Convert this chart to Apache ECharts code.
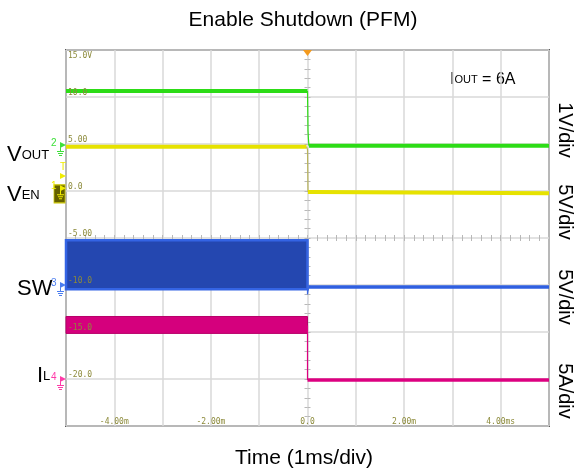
<!DOCTYPE html>
<html>
<head>
<meta charset="utf-8">
<script src="https://cdn.jsdelivr.net/npm/echarts@6/dist/echarts.min.js"></script>
<style>html,body{margin:0;padding:0;background:#fff}#main{width:578px;height:472px}</style>
</head>
<body>
<div id="main"></div>
<script>
// scope screen: x in ms, y in screen units (5 per div, as printed on the grid)
var xTicks=['','-4.00m','','-2.00m','','0.0','','2.00m','','4.00ms',''];
var yTicks=['','-20.0','-15.0','-10.0','-5.00','0.0','5.00','10.0','15.0V'];

var voutBefore=[[-5,10.65],[0,10.65]];
var voutEdge=[[0,10.65],[0.01,6.4],[0.02,5.5],[0.03,4.82]];
var voutAfter=[[0.03,4.82],[5,4.82]];

var venBefore=[[-5,4.72],[-0.02,4.72]];
var venEdge=[[-0.02,4.72],[0,4.4],[0.01,-0.1]];
var venAfter=[[0.01,-0.1],[0.15,-0.1],[0.17,-0.25],[5,-0.25]];

var swBand=[-10.45,-5.25];
var swEdge=[[0,-5.25],[0,-11.0],[0.02,-10.22]];
var swAfter=[[0.02,-10.22],[5,-10.22]];

var ilBand=[-15.15,-13.35];
var ilEdge=[[0,-14.3],[0,-20.1]];
var ilAfter=[[0,-20.1],[5,-20.1]];

// ground markers on left edge: ch2, ch1, ch3, ch4 and trigger level
var gndLevels=[4.9,0.3,-10.0,-20.0];
var trigLevel=1.6;

var sans='"Liberation Sans", Arial, sans-serif';
var mono='"DejaVu Sans Mono", monospace';
var olive='#8c8a3a';
var gndPath='path://M3,0L9,3L3,6Z M3,3h1v6h-1z M0,9h7v1h-7z M1,11h5v1h-5z M2,13h3v1h-3z';

function trace(data,color,w,extra){
	var s={type:'line',data:data,symbol:'none',silent:true,animation:false,z:3,
		lineStyle:{color:color,width:w}};
	for(var k in extra){s[k]=extra[k]}
	return s
}
function gnd(level,num,color){
	return {coord:[-5,level],symbol:gndPath,symbolSize:[9,14],symbolOffset:[-4.5,4],
		itemStyle:{color:color},
		label:{show:true,formatter:num,position:[-6,-4],fontSize:10,fontFamily:sans,color:color}}
}
function centerAxis(dir,inside){
	var a={type:'value',show:true,axisLine:{show:false,onZero:false},
		axisTick:{show:true,inside:inside,length:3,lineStyle:{color:'#b8b8b8',width:1}},
		axisLabel:{show:false},splitLine:{show:false}};
	if(dir=='x'){a.min=-5;a.max=5;a.interval=0.2;a.position='bottom';a.offset=-188}
	else{a.min=-25;a.max=15;a.interval=1;a.position='left';a.offset=-241.5}
	return a
}

var myChart=echarts.init(document.getElementById('main'));
var option={
	backgroundColor:'#fff',
	animation:false,
	grid:{left:66,right:29,top:50,bottom:46,show:true,borderColor:'#5a5a5a',borderWidth:2},
	xAxis:[{
		type:'value',min:-5,max:5,interval:1,
		axisLine:{show:false,onZero:false},axisTick:{show:false},
		splitLine:{show:true,lineStyle:{color:'#d9d9d9',width:1.5}},
		axisLabel:{inside:true,margin:0,fontSize:8,fontFamily:mono,color:olive,
			formatter:function(v){return xTicks[Math.round(v+5)]||''}}
	},centerAxis('x',true),centerAxis('x',false)],
	yAxis:[{
		type:'value',min:-25,max:15,interval:5,
		axisLine:{show:false,onZero:false},axisTick:{show:false},axisLabel:{show:false},
		splitLine:{show:true,lineStyle:{color:'#d9d9d9',width:1.5}}
	},centerAxis('y',true),centerAxis('y',false),{
		// label-only axis drawn above the traces, like the scope's overlay text
		type:'value',min:-25,max:15,interval:5,z:10,position:'left',
		axisLine:{show:false,onZero:false},axisTick:{show:false},splitLine:{show:false},
		axisLabel:{inside:true,margin:2,
			formatter:function(v){
				var i=Math.round((v+25)/5),s=yTicks[i];
				if(!s)return '';
				return i==8?'{t|'+s+'}':'{n|'+s+'}'
			},
			rich:{
				n:{fontSize:8,fontFamily:mono,color:olive,padding:[0,0,8,0]},
				t:{fontSize:8,fontFamily:mono,color:olive,padding:[11,0,0,0]}
			}}
	}],
	series:[
		trace(swAfter,'#2f5fe0',3.5,{
			markArea:{silent:true,itemStyle:{color:'#2447b0',borderColor:'#3464e4',borderWidth:2.5},
				data:[[{coord:[-5,swBand[1]]},{coord:[0,swBand[0]]}]]},
			markPoint:{silent:true,animation:false,data:[gnd(gndLevels[2],'3','#4a7df0')]}
		}),
		trace(swEdge,'#3a66e0',1.2),
		trace(ilAfter,'#dc0080',3.5,{
			markArea:{silent:true,itemStyle:{color:'#d5007d',borderColor:'#b8006a',borderWidth:1},
				data:[[{coord:[-5,ilBand[1]]},{coord:[0,ilBand[0]]}]]},
			markPoint:{silent:true,animation:false,data:[gnd(gndLevels[3],'4','#ff3aa8')]}
		}),
		trace(ilEdge,'#dc0080',1.2),
		trace(venBefore,'#e6e200',4),
		trace(venEdge,'#b9b45a',1.2),
		trace(venAfter,'#e6e200',4,{
			markPoint:{silent:true,animation:false,data:[
				{coord:[-5,-0.3],symbol:'rect',symbolSize:[11,18],symbolOffset:[-6.5,0],
					itemStyle:{color:'#646000',borderColor:'#c9c400',borderWidth:1}},
				gnd(gndLevels[1],'1','#f0ec00'),
				{coord:[-5,trigLevel],symbol:'path://M0,0L6,3L0,6Z',symbolSize:[6,6],symbolOffset:[-3,0],
					itemStyle:{color:'#f0ec00'},
					label:{show:true,formatter:'T',position:'top',distance:1,fontSize:10,fontFamily:sans,color:'#f0ec00'}}
			]}
		}),
		trace(voutBefore,'#2ddc16',4),
		trace(voutEdge,'#2ddc16',1.2),
		trace(voutAfter,'#2ddc16',4,{
			markPoint:{silent:true,animation:false,data:[
				gnd(gndLevels[0],'2','#3ee03a'),
				{coord:[0,15],symbol:'triangle',symbolRotate:180,symbolSize:[9,6],symbolOffset:[0,3],
					itemStyle:{color:'#f39a1e'}}
			]}
		})
	],
	graphic:[
		{type:'text',x:303,y:20,style:{text:'Enable Shutdown (PFM)',font:'21px '+sans,fill:'#000',
			align:'center',verticalAlign:'middle',textAlign:'center',textVerticalAlign:'middle'}},
		{type:'text',x:304,y:458,style:{text:'Time (1ms/div)',font:'21px '+sans,fill:'#000',
			align:'center',verticalAlign:'middle',textAlign:'center',textVerticalAlign:'middle'}},
		{type:'text',x:7,y:155,style:{text:'{v|V}{s|OUT}',verticalAlign:'middle',textVerticalAlign:'middle',
			rich:{v:{fontSize:22,fontFamily:sans,fill:'#000'},s:{fontSize:13,fontFamily:sans,fill:'#000'}}}},
		{type:'text',x:7,y:195,style:{text:'{v|V}{s|EN}',verticalAlign:'middle',textVerticalAlign:'middle',
			rich:{v:{fontSize:22,fontFamily:sans,fill:'#000'},s:{fontSize:13,fontFamily:sans,fill:'#000'}}}},
		{type:'text',x:17,y:289,style:{text:'SW',font:'22px '+sans,fill:'#000',verticalAlign:'middle',textVerticalAlign:'middle'}},
		{type:'text',x:37,y:376,style:{text:'{v|I}{s|L}',verticalAlign:'middle',textVerticalAlign:'middle',
			rich:{v:{fontSize:22,fontFamily:sans,fill:'#000'},s:{fontSize:13,fontFamily:sans,fill:'#000'}}}},
		{type:'text',x:450,y:80,style:{text:'{v|I}{s|OUT}{v| = 6A}',verticalAlign:'middle',textVerticalAlign:'middle',
			rich:{v:{fontSize:16,fontFamily:sans,fill:'#000'},s:{fontSize:11,fontFamily:sans,fill:'#000'}}}},
		{type:'text',x:565,y:130,rotation:-Math.PI/2,style:{text:'1V/div',font:'20px '+sans,fill:'#000',
			align:'center',verticalAlign:'middle',textAlign:'center',textVerticalAlign:'middle'}},
		{type:'text',x:565,y:212,rotation:-Math.PI/2,style:{text:'5V/div',font:'20px '+sans,fill:'#000',
			align:'center',verticalAlign:'middle',textAlign:'center',textVerticalAlign:'middle'}},
		{type:'text',x:565,y:297,rotation:-Math.PI/2,style:{text:'5V/div',font:'20px '+sans,fill:'#000',
			align:'center',verticalAlign:'middle',textAlign:'center',textVerticalAlign:'middle'}},
		{type:'text',x:565,y:391,rotation:-Math.PI/2,style:{text:'5A/div',font:'20px '+sans,fill:'#000',
			align:'center',verticalAlign:'middle',textAlign:'center',textVerticalAlign:'middle'}}
	]
};
myChart.setOption(option);
</script>
</body>
</html>
